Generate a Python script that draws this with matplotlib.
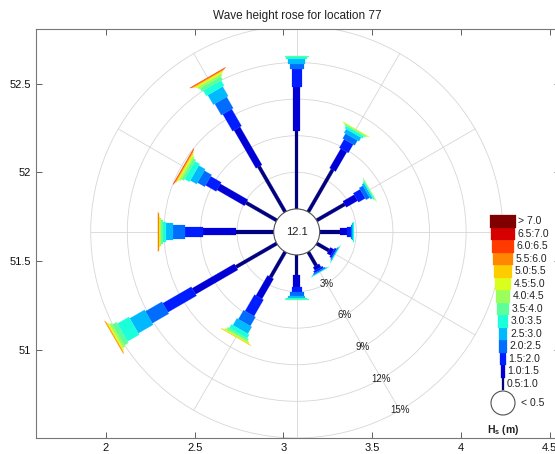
import numpy as np
import matplotlib
matplotlib.use('Agg')
import matplotlib.pyplot as plt
from matplotlib.patches import Polygon, Circle

plt.rcParams['font.family'] = ['Liberation Sans', 'DejaVu Sans']
plt.rcParams['mathtext.fontset'] = 'custom'
plt.rcParams['mathtext.bf'] = 'Liberation Sans:bold'
plt.rcParams['mathtext.rm'] = 'Liberation Sans'

# ---------------- data ----------------
title = "Wave height rose for location 77"
directions = [0, 30, 60, 90, 120, 150, 180, 210, 240, 270, 300, 330]  # deg from north
class_labels = ["0.5:1.0", "1.0:1.5", "1.5:2.0", "2.0:2.5", "2.5:3.0", "3.0:3.5",
                "3.5:4.0", "4.0:4.5", "4.5:5.0", "5.0:5.5", "5.5:6.0", "6.0:6.5",
                "6.5:7.0", "> 7.0"]
calm_label = "< 0.5"
calm_pct = 12.1
# frequency (%) per direction, per Hs class
f000 = [6.4, 3.6, 1.5, 0.4, 0.35, 0.2, 0.1, 0, 0, 0, 0, 0, 0, 0]
f030 = [4.0, 1.84, 0.8, 0.46, 0.35, 0.2, 0.1, 0.06, 0.03, 0, 0, 0, 0, 0]
f060 = [2.65, 1.07, 0.64, 0.34, 0.18, 0.1, 0.04, 0.02, 0, 0, 0, 0, 0, 0]
f090 = [1.66, 0.6, 0.27, 0.15, 0.07, 0.04, 0, 0, 0, 0, 0, 0, 0, 0]
f120 = [1.15, 0.33, 0.16, 0.08, 0.04, 0.02, 0, 0, 0, 0, 0, 0, 0, 0]
f150 = [1.3, 0.3, 0.17, 0.1, 0.04, 0.02, 0, 0, 0, 0, 0, 0, 0, 0]
f180 = [1.65, 0.95, 0.4, 0.33, 0.2, 0.12, 0.04, 0, 0, 0, 0, 0, 0, 0]
f210 = [2.4, 1.9, 1.55, 0.85, 0.65, 0.35, 0.18, 0.1, 0.06, 0.04, 0, 0, 0, 0]
f240 = [3.85, 4.0, 2.7, 1.56, 1.4, 1.1, 0.4, 0.2, 0.1, 0.06, 0.04, 0, 0, 0]
f270 = [3.1, 2.7, 1.5, 0.95, 0.55, 0.27, 0.15, 0.1, 0.07, 0.05, 0.04, 0.04, 0, 0]
f300 = [2.9, 2.6, 1.0, 0.68, 0.6, 0.45, 0.22, 0.14, 0.1, 0.07, 0.05, 0.04, 0, 0]
f330 = [4.3, 3.6, 1.6, 1.07, 0.9, 0.5, 0.3, 0.18, 0.11, 0.07, 0.05, 0.04, 0, 0]
freqs = [f000, f030, f060, f090, f120, f150, f180, f210, f240, f270, f300, f330]
ring_pcts = [3, 6, 9, 12, 15]
xticks = [2, 2.5, 3, 3.5, 4, 4.5]
xticklabels = ["2", "2.5", "3", "3.5", "4", "4.5"]
yticks = [51, 51.5, 52, 52.5]
yticklabels = ["51", "51.5", "52", "52.5"]

# ---------------- layout ----------------
W, H = 555, 454
PX = 177.5                      # pixels per data unit
fig = plt.figure(figsize=(W / 100, H / 100), dpi=100)
ax_l, ax_r, ax_t, ax_b = 35.6, 560.0, 28.5, 438.0
ax = fig.add_axes([ax_l / W, (H - ax_b) / H, (ax_r - ax_l) / W, (ax_b - ax_t) / H])
x0, y0 = 1.604, 50.504
ax.set_xlim(x0, x0 + (ax_r - ax_l) / PX)
ax.set_ylim(y0, y0 + (ax_b - ax_t) / PX)

cx, cy = 3.075, 51.665          # rose centre
r0 = 23 / PX                    # calm circle radius
S = 12.2 / PX                   # data units per percent
cols = plt.cm.jet(np.linspace(0, 1, len(class_labels)))
pet_w = [(3.5 + 3.4 * i) / PX for i in range(len(class_labels))]
grid_c = '#d6d6d6'

# grid rings & spokes
for p in ring_pcts:
    ax.add_patch(Circle((cx, cy), r0 + p * S, fill=False, ec=grid_c, lw=0.6, zorder=1))
Rmax = r0 + ring_pcts[-1] * S
for a in range(0, 360, 30):
    t = np.radians(a)
    ax.plot([cx, cx + Rmax * np.sin(t)], [cy, cy + Rmax * np.cos(t)],
            color=grid_c, lw=0.6, zorder=1)

# petals
for d, fr in zip(directions, freqs):
    t = np.radians(d)
    u = np.array([np.sin(t), np.cos(t)])
    n = np.array([np.cos(t), -np.sin(t)])
    c = np.array([cx, cy])
    r = r0
    for i, f in enumerate(fr):
        if f <= 0:
            continue
        r2 = r + f * S
        hw = pet_w[i] / 2
        pts = [c + r * u + hw * n, c + r2 * u + hw * n,
               c + r2 * u - hw * n, c + r * u - hw * n]
        ax.add_patch(Polygon(pts, closed=True, fc=cols[i], ec=cols[i], lw=0.15, zorder=2))
        r = r2

# calm circle
ax.add_patch(Circle((cx, cy), r0, fc='white', ec='#505050', lw=0.8, zorder=3))
ax.text(cx, cy, f"{calm_pct}", ha='center', va='center', fontsize=8, color='#222222', zorder=4)

# ring labels along 150 deg
t = np.radians(150)
for p in ring_pcts:
    rr = r0 + p * S
    ax.text(cx + rr * np.sin(t), cy + rr * np.cos(t), f"{p}%", ha='center', va='center',
            fontsize=7, color='#222222', zorder=4)

# legend
lcx = x0 + (503 - ax_l) / PX
lh = 12.5 / PX
lb = y0 + (ax_b - 390) / PX
for i, lab in enumerate(class_labels):
    w = (1.5 + 1.85 * i) / PX
    yb = lb + i * lh
    ax.add_patch(plt.Rectangle((lcx - w / 2, yb), w, lh, fc=cols[i], ec=cols[i], lw=0.2,
                               zorder=3, clip_on=False))
    ax.text(lcx + w / 2 + 2.5 / PX, yb + lh / 2, lab, ha='left', va='center', fontsize=7.5,
            color='#222222', clip_on=False)
ccy = y0 + (ax_b - 403) / PX
cr = 12 / PX
ax.add_patch(Circle((lcx, ccy), cr, fc='white', ec='#505050', lw=0.8, zorder=3, clip_on=False))
ax.text(lcx + cr + 6 / PX, ccy, calm_label, ha='left', va='center', fontsize=7.5, color='#222222')
ax.text(lcx, y0 + 8 / PX, r'$\mathbf{H_s}$ $\mathbf{(m)}$', ha='center', va='center',
        fontsize=7.5, color='#222222')

# axes styling
ax.set_xticks(xticks)
ax.set_xticklabels(xticklabels)
ax.set_yticks(yticks)
ax.set_yticklabels(yticklabels)
ax.tick_params(direction='in', length=4, width=0.6, colors='#444444', labelsize=8,
               top=True, right=True, labelcolor='#111111')
for s in ax.spines.values():
    s.set_color('#777777')
    s.set_linewidth(0.8)
ax.set_title(title, fontsize=8.5, color='#222222', pad=7)

fig.savefig('out.png', dpi=100)
